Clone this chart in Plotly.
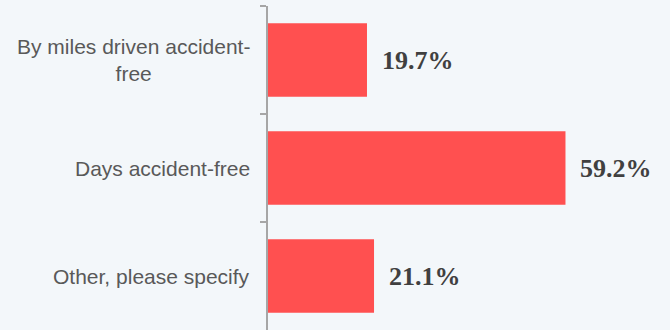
import plotly.graph_objects as go

categories = ["By miles driven accident-<br>free", "Days accident-free", "Other, please specify"]
values = [19.7, 59.2, 21.1]
value_labels = ["19.7%", "59.2%", "21.1%"]

BG = "#f3f7fa"
BAR = "#ff5050"

fig = go.Figure(
    go.Bar(
        x=values,
        y=categories,
        orientation="h",
        marker=dict(color=BAR, line=dict(width=0)),
        width=0.68,
        hoverinfo="skip",
    )
)

# value labels just right of each bar
for c, v, t in zip(categories, values, value_labels):
    fig.add_annotation(
        x=v, y=c, xref="x", yref="y", text=f"<b>{t}</b>",
        showarrow=False, xanchor="left", xshift=13,
        font=dict(family="Liberation Serif, Times New Roman, serif", size=26, color="#404040"),
    )

# centred, wrapped category labels left of the axis
for c in categories:
    fig.add_annotation(
        x=0, y=c, xref="paper", yref="y", text=c,
        showarrow=False, xanchor="right", xshift=-16, align="center",
        font=dict(family="Liberation Sans, Arial, sans-serif", size=21, color="#595959"),
    )

fig.update_layout(
    width=670, height=330,
    margin=dict(l=268, r=0, t=6, b=0),
    paper_bgcolor=BG, plot_bgcolor=BG,
    showlegend=False,
    xaxis=dict(range=[0, 80], visible=False, fixedrange=True),
    yaxis=dict(
        type="category",
        categoryorder="array", categoryarray=categories,
        autorange="reversed",
        showticklabels=False,
        showline=True, linecolor="#a6a6a6", linewidth=2,
        ticks="outside", tickson="boundaries", ticklen=6,
        tickcolor="#a6a6a6", tickwidth=1.5,
        showgrid=False, zeroline=False, fixedrange=True,
    ),
)

fig.write_html("out.html")
